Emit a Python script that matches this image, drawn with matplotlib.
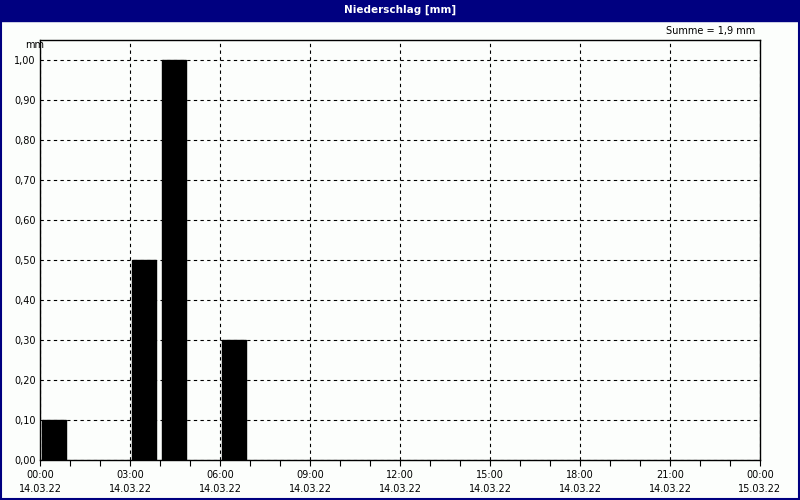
import matplotlib
matplotlib.use("Agg")
import matplotlib.pyplot as plt
from matplotlib.patches import Rectangle
from matplotlib.ticker import MultipleLocator, FixedLocator

# Data (hourly precipitation, mm)
hours = [0, 3, 4, 6]
values = [0.10, 0.50, 1.00, 0.30]
tick_hours = [0, 3, 6, 9, 12, 15, 18, 21, 24]
tick_labels = ["00:00\n14.03.22", "03:00\n14.03.22", "06:00\n14.03.22",
               "09:00\n14.03.22", "12:00\n14.03.22", "15:00\n14.03.22",
               "18:00\n14.03.22", "21:00\n14.03.22", "00:00\n15.03.22"]
y_ticks = [0.0, 0.1, 0.2, 0.3, 0.4, 0.5, 0.6, 0.7, 0.8, 0.9, 1.0]
title = "Niederschlag [mm]"
total = "Summe = 1,9 mm"

navy = "#000080"
bg = "#FCFEFC"

plt.rcParams['font.family'] = ['DejaVu Sans']
fig = plt.figure(figsize=(8, 5), dpi=100, facecolor=bg)

# Frame around the whole figure
fig.patches.append(Rectangle((0.001, 0.002), 0.998, 0.996, transform=fig.transFigure,
                             facecolor="none", edgecolor=navy, linewidth=1.5, zorder=10))
# Title bar
fig.patches.append(Rectangle((0, 0.958), 1, 0.042, transform=fig.transFigure,
                             facecolor=navy, edgecolor=navy, zorder=0))
fig.text(0.5, 0.981, title, color="white", fontsize=7.5, fontweight="bold",
         ha="center", va="center")

ax = fig.add_axes([0.05, 0.08, 0.90, 0.84])
ax.set_facecolor(bg)
ax.bar([h + 0.05 for h in hours], values, width=0.8, align="edge",
       color="#000000", edgecolor="#000000", zorder=3)

ax.set_xlim(0, 24)
ax.set_ylim(0, 1.05)
ax.xaxis.set_major_locator(FixedLocator(tick_hours))
ax.set_xticklabels(tick_labels, fontsize=7, linespacing=1.55)
ax.xaxis.set_minor_locator(MultipleLocator(1))
ax.tick_params(axis="x", which="both", direction="out", length=4, width=0.8,
               pad=3, colors="black")
ax.set_yticks(y_ticks)
ax.set_yticklabels([f"{v:.2f}".replace(".", ",") for v in y_ticks], fontsize=7)
ax.tick_params(axis="y", length=0, pad=3)

ax.grid(True, which="major", axis="y", color="black", linestyle=(0, (3, 3)), linewidth=0.8, zorder=1)
ax.grid(True, which="major", axis="x", color="black", linestyle=(0, (3, 3)), linewidth=0.8, zorder=1)
for s in ax.spines.values():
    s.set_color("black")
    s.set_linewidth(1)
    s.set_zorder(4)

fig.text(0.031, 0.91, "mm", fontsize=7, ha="left", va="center")
fig.text(0.944, 0.938, total, fontsize=7, ha="right", va="center")

fig.savefig("out.png", dpi=100, facecolor=bg)
